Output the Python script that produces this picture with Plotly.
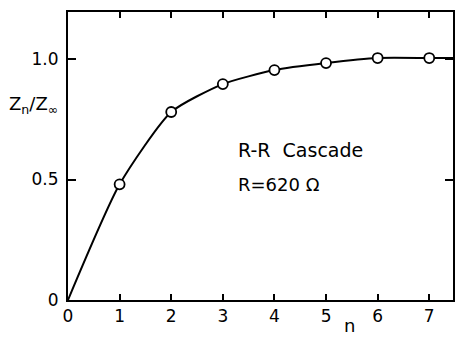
import plotly.graph_objects as go

# Measured impedance ratio of an R-R ladder versus number of sections
n_sections = [1, 2, 3, 4, 5, 6, 7]
z_ratio = [0.48, 0.78, 0.896, 0.954, 0.983, 1.004, 1.004]

# Smooth guide curve drawn through the origin and the measured points
curve_n = [0] + n_sections + [7.46]
curve_z = [0] + z_ratio + [1.004]

x_ticks = [0, 1, 2, 3, 4, 5, 6, 7]
y_ticks = [0, 0.5, 1.0]
y_tick_text = ["0", "0.5", "1.0"]

FONT = "DejaVu Sans"

fig = go.Figure()
fig.add_trace(go.Scatter(
    x=curve_n, y=curve_z, mode="lines",
    line=dict(color="black", width=2, shape="spline", smoothing=0.6),
    hoverinfo="skip", showlegend=False,
))
fig.add_trace(go.Scatter(
    x=n_sections, y=z_ratio, mode="markers",
    marker=dict(symbol="circle", size=10, color="white",
                line=dict(color="black", width=1.8)),
    showlegend=False,
))

W, H = 456, 337
L, R, T, B = 68, 1, 12, 37
plot_h = H - T - B


def py(pix):
    return (H - B - pix) / plot_h


fig.update_layout(
    width=W, height=H,
    margin=dict(l=L, r=R, t=T, b=B),
    paper_bgcolor="white", plot_bgcolor="white",
    font=dict(family=FONT, size=17, color="black"),
    xaxis=dict(
        range=[0, 7.46], tickvals=x_ticks, ticktext=[str(v) for v in x_ticks],
        ticks="inside", ticklen=6, tickwidth=1.5, tickcolor="black",
        showline=True, linecolor="black", linewidth=2, mirror="ticks",
        showgrid=False, zeroline=False, fixedrange=True,
    ),
    yaxis=dict(
        range=[0, 1.195], tickvals=y_ticks, ticktext=y_tick_text,
        ticks="inside", ticklen=8, tickwidth=1.5, tickcolor="black",
        showline=True, linecolor="black", linewidth=2, mirror="ticks",
        showgrid=False, zeroline=False, fixedrange=True,
        ticklabelstandoff=4,
    ),
    annotations=[
        dict(text="Z<sub>n</sub>/Z<sub>∞</sub>", xref="paper", yref="paper",
             x=-0.02, y=py(105), xanchor="right", yanchor="middle",
             showarrow=False, font=dict(family=FONT, size=18)),
        dict(text="R-R  Cascade", xref="x", yref="paper",
             x=(237 - L) / 51.9, y=py(150), xanchor="left", yanchor="middle",
             showarrow=False, font=dict(family=FONT, size=19)),
        dict(text="R=620 Ω", xref="x", yref="paper",
             x=(237 - L) / 51.9, y=py(184), xanchor="left", yanchor="middle",
             showarrow=False, font=dict(family=FONT, size=18)),
        dict(text="n", xref="x", yref="paper",
             x=(351 - L) / 51.9, y=py(325), xanchor="center", yanchor="middle",
             showarrow=False, font=dict(family=FONT, size=18)),
    ],
)

fig.write_html("out.html")
